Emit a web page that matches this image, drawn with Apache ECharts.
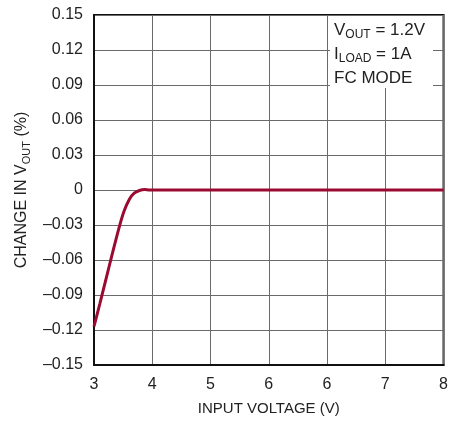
<!DOCTYPE html>
<html>
<head>
<meta charset="utf-8">
<script src="https://cdn.jsdelivr.net/npm/echarts@6/dist/echarts.min.js"></script>
<style>
html,body{margin:0;padding:0;background:#fff;}
#c{width:451px;height:421px;}
</style>
</head>
<body>
<div id="c"></div>
<script>
// Data
const inputVoltage = [3.0, 3.1, 3.21, 3.32, 3.44, 3.52, 3.61, 3.69, 3.78, 3.87, 3.95, 4.3, 5, 6, 7, 8, 9];
const changeVout  = [-0.117, -0.0975, -0.0755, -0.0535, -0.0305, -0.0176, -0.0077, -0.0026, -0.0004, 0.0004, 0, 0, 0, 0, 0, 0, 0];
const xTickLabels = ['3', '4', '5', '6', '6', '7', '8'];
const yTicks = [-0.15, -0.12, -0.09, -0.06, -0.03, 0, 0.03, 0.06, 0.09, 0.12, 0.15];
const noteLines = ['{n|V}{s|OUT}{n| = 1.2V}', '{n|I}{s|LOAD}{n| = 1A}', '{n|FC MODE}'];

const FONT = "'Liberation Sans', Arial, sans-serif";
const TXT = '#222';
const chart = echarts.init(document.getElementById('c'));

function fmtY(v) {
  const r = Math.round(v * 100) / 100;
  if (Math.abs(r) < 1e-9) return '0';
  const s = Math.abs(r).toFixed(2);
  return (r < 0 ? '\u2013' : '') + s;
}

const noteRich = {
  n: {fontFamily: FONT, fontSize: 17, lineHeight: 21, fill: TXT},
  s: {fontFamily: FONT, fontSize: 12, lineHeight: 12, fill: TXT, verticalAlign: 'bottom'}
};

chart.setOption({
  animation: false,
  backgroundColor: '#fff',
  grid: {left: 94, right: 5, top: 15, bottom: 54, show: true, borderColor: '#111', borderWidth: 2, containLabel: false},
  xAxis: {
    type: 'value', min: 3, max: 9, interval: 1,
    name: 'INPUT VOLTAGE (V)', nameLocation: 'middle', nameGap: 36,
    nameTextStyle: {fontFamily: FONT, fontSize: 15, color: TXT},
    axisLine: {show: true, onZero: false, lineStyle: {color: '#111', width: 2}},
    axisTick: {show: false},
    axisLabel: {fontFamily: FONT, fontSize: 16, color: TXT, margin: 12,
      formatter: v => xTickLabels[Math.round(v - 3)]},
    splitLine: {show: true, lineStyle: {color: '#6a6a6a', width: 1}}
  },
  yAxis: {
    type: 'value', min: yTicks[0], max: yTicks[yTicks.length - 1], interval: 0.03,
    name: '{n|CHANGE IN V}{s|OUT}{n| (%)}', nameLocation: 'middle', nameGap: 60, nameRotate: 90,
    nameTextStyle: {fontFamily: FONT, fontSize: 16, color: TXT,
      rich: {
        n: {fontFamily: FONT, fontSize: 16, color: TXT, lineHeight: 20},
        s: {fontFamily: FONT, fontSize: 11, color: TXT, lineHeight: 11, verticalAlign: 'bottom'}
      }},
    axisLine: {show: true, onZero: false, lineStyle: {color: '#111', width: 2}},
    axisTick: {show: false},
    axisLabel: {fontFamily: FONT, fontSize: 16, color: TXT, margin: 11, formatter: fmtY},
    splitLine: {show: true, lineStyle: {color: '#6a6a6a', width: 1}}
  },
  graphic: [
    {type: 'rect', shape: {x: 330, y: 16, width: 103, height: 72}, style: {fill: '#fff'}, z: 10}
  ].concat(noteLines.map((t, i) => ({
    type: 'text', left: 334, top: 22 + i * 24, z: 11,
    style: {text: t, fill: TXT, rich: noteRich}
  }))),
  series: [{
    type: 'line', data: inputVoltage.map((x, i) => [x, changeVout[i]]),
    smooth: 0.3, showSymbol: false, symbol: 'none',
    lineStyle: {color: '#9b0a30', width: 3}, z: 5
  }]
});
</script>
</body>
</html>
